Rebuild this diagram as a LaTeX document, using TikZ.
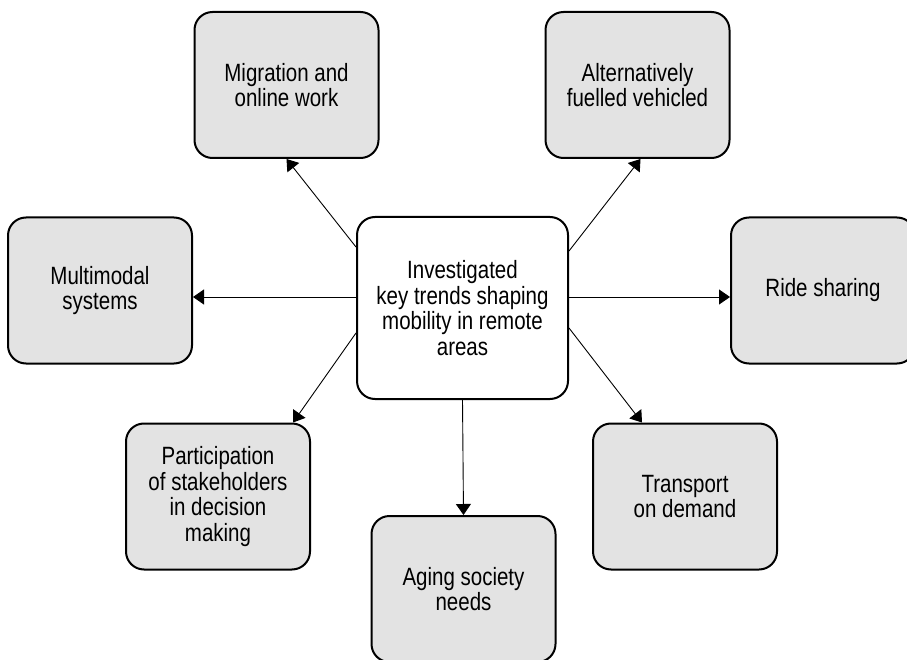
\documentclass[tikz,border=0pt]{standalone}
\usepackage{fontspec}
\setmainfont{Liberation Sans}[FakeStretch=0.82]
\usepackage{tikz}
\usetikzlibrary{calc}
\usetikzlibrary{arrows.meta}
\definecolor{boxgray}{HTML}{E3E3E3}
\tikzset{trend/.style={draw, line width=2pt, rounded corners=18pt, fill=boxgray, minimum width=184pt, minimum height=146pt, align=center, font=\fontsize{25}{25.5}\selectfont}}
\tikzset{hub/.style={trend, fill=white, minimum width=211pt, minimum height=182pt}}

\begin{document}
\begin{tikzpicture}[x=1pt, y=-1pt]
\tikzstyle{myedgestyle} = [line width=0.9pt, -{Triangle[length=11pt, width=15pt]}]
\useasboundingbox (0, 0) rectangle (907, 660);
\node[hub](Trends) at (462.5, 308){Investigated\\key trends shaping\\mobility in remote\\areas};
\node[trend](Migration) at (286.5, 85){Migration and\\online work};
\node[trend](Fuel) at (637.5, 85){Alternatively\\fuelled vehicled};
\node[trend](Multimodal) at (100, 290.5){Multimodal\\systems};
\node[trend](Ride) at (823, 290.5){Ride sharing};
\node[trend](Participation) at (218, 496.5){Participation\\of stakeholders\\in decision\\making};
\node[trend](Transport) at (685, 496.5){Transport\\on demand};
\node[trend](Aging) at (463.5, 589){Aging society\\needs};
\draw[myedgestyle] ([yshift=-31pt]Trends.north west) -- (Migration.south);
\draw[myedgestyle] ([yshift=-35pt]Trends.north east) -- ([xshift=3pt]Fuel.south);
\draw[myedgestyle] ([yshift=11pt]Trends.west) -- ([yshift=-6.5pt]Multimodal.east);
\draw[myedgestyle] ([yshift=11pt]Trends.east) -- ([yshift=-6.5pt]Ride.west);
\draw[myedgestyle] ([yshift=-25pt]Trends.west) -- ([xshift=-18pt]Participation.north east);
\draw[myedgestyle] ([yshift=-20pt]Trends.east) -- ([xshift=50pt]Transport.north west);
\draw[myedgestyle] (Trends.south) -- (Aging.north);
\end{tikzpicture}
\end{document}
